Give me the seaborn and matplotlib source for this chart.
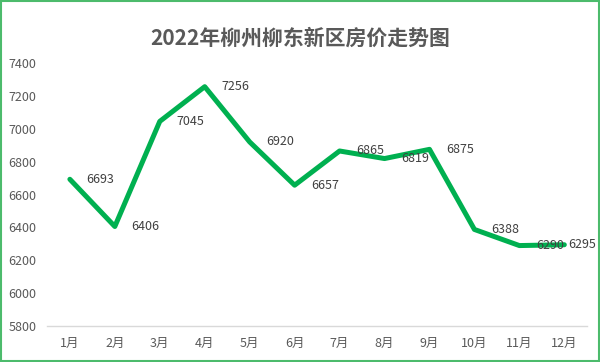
import pandas as pd
import matplotlib.pyplot as plt
import seaborn as sns
from matplotlib.patches import Rectangle

# ---------------- Data ----------------

months = ['1月', '2月', '3月', '4月', '5月', '6月',
          '7月', '8月', '9月', '10月', '11月', '12月']
prices = [6693, 6406, 7045, 7256, 6920, 6657,
          6865, 6819, 6875, 6388, 6290, 6295]
y_ticks = [5800, 6000, 6200, 6400, 6600, 6800, 7000, 7200, 7400]

df = pd.DataFrame({'月份': months, '房价': prices})

# ---------------- Style ----------------

sns.set_style('white')
plt.rcParams['font.family'] = ['Noto Sans CJK SC', 'DejaVu Sans']

fig = plt.figure(figsize=(6, 3.62), dpi=100)
ax = fig.add_axes([0.079, 0.099, 0.899, 0.727])

sns.lineplot(
    data=df,
    x='月份',
    y='房价',
    color='#00B050',
    linewidth=3.6,
    sort=False,
    ax=ax
)

# data labels to the right of each point (last one squeezed in)
for i, v in enumerate(prices):
    dx = 12 if i < len(prices) - 1 else 3
    ax.annotate(str(v), (i, v), xytext=(dx, 0), textcoords='offset points',
                ha='left', va='center', fontsize=9, color='#404040')

ax.set_xlim(-0.5, len(months) - 0.5)
ax.set_ylim(5800, 7400)
ax.set_yticks(y_ticks)
ax.set_xlabel('')
ax.set_ylabel('')
ax.tick_params(axis='both', length=0, labelsize=9, colors='#595959', pad=8)

for side in ['left', 'right', 'top']:
    ax.spines[side].set_visible(False)
ax.spines['bottom'].set_color('#D9D9D9')
ax.spines['bottom'].set_linewidth(1)

fig.text(0.5, 0.895, '2022年柳州柳东新区房价走势图', ha='center', va='center',
         fontsize=15, fontweight='bold', color='#595959')

# green frame around the chart
fig.patches.append(Rectangle((0.002, 0.003), 0.996, 0.994, transform=fig.transFigure,
                             fill=False, edgecolor='#4CBB6C', linewidth=1.5))

plt.savefig('out.png', dpi=100)
